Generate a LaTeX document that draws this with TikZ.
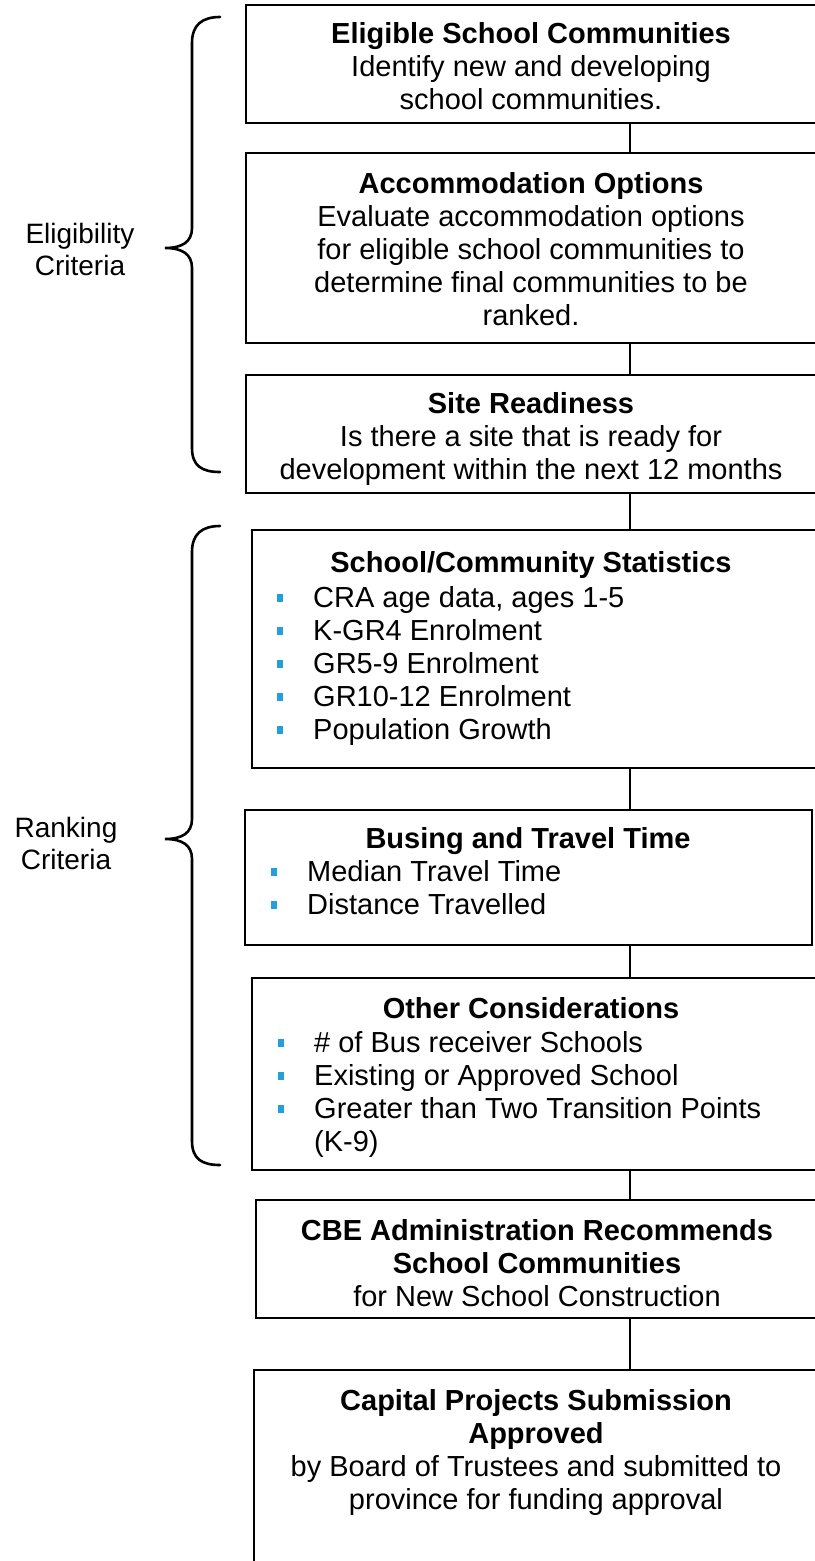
\documentclass[tikz,border=0pt]{standalone}
\usepackage{fontspec}
\setmainfont{Liberation Sans}
\definecolor{bulletblue}{RGB}{35,160,220}
\newcommand{\bul}{\llap{\textcolor{bulletblue}{\rule[5pt]{6pt}{8pt}}\hspace{30pt}}}
\begin{document}
\begin{tikzpicture}[x=1pt,y=-1pt,
  boxframe/.style={draw=black, line width=2.7pt, anchor=north west, inner sep=0pt, outer sep=0pt},
  txt/.style={font=\fontsize{29}{33}\selectfont, align=center, anchor=north, inner sep=0pt},
  lst/.style={font=\fontsize{29}{33}\selectfont, align=left, anchor=north west, inner sep=0pt},
  link/.style={draw=black, line width=1.8pt},
  brace/.style={draw=black, line width=2.6pt, line cap=round},
  lbl/.style={font=\fontsize{28}{32}\selectfont, align=center, inner sep=0pt}]
\useasboundingbox (0,0) rectangle (814,1561);
\fill[white] (0,0) rectangle (814,1561);

% boxes
\node[boxframe, minimum width=574pt, minimum height=118pt] (b1) at (246,5) {};
\node[boxframe, minimum width=574pt, minimum height=190pt] (b2) at (246,153) {};
\node[boxframe, minimum width=574pt, minimum height=118pt] (b3) at (246,375) {};
\node[boxframe, minimum width=568pt, minimum height=238pt] (b4) at (252,530) {};
\node[boxframe, minimum width=567pt, minimum height=135pt] (b5) at (245,810) {};
\node[boxframe, minimum width=568pt, minimum height=192pt] (b6) at (252,978) {};
\node[boxframe, minimum width=564pt, minimum height=118pt] (b7) at (256,1200) {};
\node[boxframe, minimum width=566pt, minimum height=220pt] (b8) at (254,1370) {};

% connectors
\coordinate (cx) at (630,0);
\draw[link] (b1.south -| cx) -- (b2.north -| cx);
\draw[link] (b2.south -| cx) -- (b3.north -| cx);
\draw[link] (b3.south -| cx) -- (b4.north -| cx);
\draw[link] (b4.south -| cx) -- (b5.north -| cx);
\draw[link] (b5.south -| cx) -- (b6.north -| cx);
\draw[link] (b6.south -| cx) -- (b7.north -| cx);
\draw[link] (b7.south -| cx) -- (b8.north -| cx);

% texts
\node[txt] (t1) at (531,20) {\strut\textbf{Eligible School Communities}\\Identify new and developing\\school communities.};
\node[txt] (t2) at (531,170) {\strut\textbf{Accommodation Options}\\Evaluate accommodation options\\for eligible school communities to\\determine final communities to be\\ranked.};
\node[txt] (t3) at (531,390) {\strut\textbf{Site Readiness}\\Is there a site that is ready for\\development within the next 12 months};
\node[txt] (t4) at (531,549) {\strut\textbf{School/Community Statistics}};
\node[lst] (l4) at (313,584) {\strut\bul CRA age data, ages 1-5\\\bul K-GR4 Enrolment\\\bul GR5-9 Enrolment\\\bul GR10-12 Enrolment\\\bul Population Growth};
\node[txt] (t5) at (528,825) {\strut\textbf{Busing and Travel Time}};
\node[lst] (l5) at (307,858) {\strut\bul Median Travel Time\\\bul Distance Travelled};
\node[txt] (t6) at (531,995) {\strut\textbf{Other Considerations}};
\node[lst] (l6) at (314,1029) {\strut\bul \# of Bus receiver Schools\\\bul Existing or Approved School\\\bul Greater than Two Transition Points\\(K-9)};
\node[txt] (t7) at (537,1217) {\strut\textbf{CBE Administration Recommends}\\\textbf{School Communities}\\for New School Construction};
\node[txt] (t8) at (536,1387) {\strut\textbf{Capital Projects Submission}\\\textbf{Approved}\\by Board of Trustees and submitted to\\province for funding approval};

% braces and labels
\draw[brace] (220,17) .. controls (202,17) and (192,25) .. (192,43) -- (192,228)
  .. controls (192,242) and (182,248) .. (165,248)
  .. controls (182,248) and (192,254) .. (192,268) -- (192,448)
  .. controls (192,466) and (202,472) .. (220,472);
\node[lbl] (elig) at (80,249) {Eligibility\\Criteria};
\draw[brace] (220,526) .. controls (202,526) and (192,534) .. (192,552) -- (192,819)
  .. controls (192,833) and (182,839) .. (165,839)
  .. controls (182,839) and (192,845) .. (192,859) -- (192,1141)
  .. controls (192,1159) and (202,1165) .. (220,1165);
\node[lbl] (rank) at (66,843) {Ranking\\Criteria};
\end{tikzpicture}
\end{document}
